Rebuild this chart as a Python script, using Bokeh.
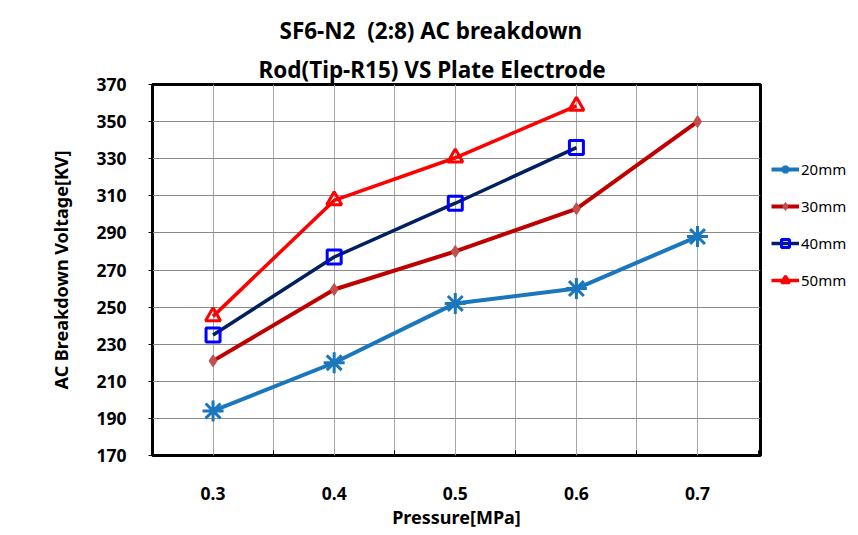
from bokeh.plotting import figure
from bokeh.models import Legend, LegendItem, FixedTicker, Range1d, Title
from bokeh.embed import file_html
from bokeh.resources import INLINE

pressure = [0.3, 0.4, 0.5, 0.6, 0.7]
v20 = [194, 220, 252, 260, 288]
v30 = [221, 259.5, 280, 303, 350]
v40 = [235, 277, 306, 336]
v50 = [245, 307.5, 330.5, 358.5]
y_ticks = [170, 190, 210, 230, 250, 270, 290, 310, 330, 350, 370]
x_labels = ["0.3", "0.4", "0.5", "0.6", "0.7"]
series_names = ["20mm", "30mm", "40mm", "50mm"]
title1 = "SF6-N2  (2:8) AC breakdown"
title2 = "Rod(Tip-R15) VS Plate Electrode"

FONT = "Noto Sans"

p = figure(frame_width=608, frame_height=371, output_backend="svg", toolbar_location=None,
           x_range=Range1d(0.25, 0.752), y_range=Range1d(170, 370),
           min_border_left=152, min_border_right=98, min_border_top=84, min_border_bottom=80)
p.background_fill_color = "white"
p.border_fill_color = "white"
p.outline_line_color = "black"
p.outline_line_width = 3

# titles (later "above" layouts sit closer to the frame)
p.title.text = title1.replace("  ", "\u00a0 ")
p.title.align = "left"
p.title.offset = 127
p.title.standoff = 12
p.title.text_font = FONT
p.title.text_font_style = "bold"
p.title.text_font_size = "22.5px"
p.title.text_color = "black"
t2 = Title(text=title2, align="left", offset=106, standoff=0, text_font=FONT,
           text_font_style="bold", text_font_size="22.5px", text_color="black")
p.add_layout(t2, "above")

# axes
p.xaxis.ticker = FixedTicker(ticks=pressure, minor_ticks=[0.25, 0.35, 0.45, 0.55, 0.65, 0.75])
p.xaxis.major_label_overrides = {x: l for x, l in zip(pressure, x_labels)}
p.xaxis.major_tick_line_color = None
p.xaxis.minor_tick_in = 5
p.xaxis.minor_tick_out = 0
p.xaxis.minor_tick_line_color = "black"
p.xaxis.axis_line_color = None
p.xaxis.major_label_standoff = 25
p.xaxis.axis_label = "Pressure[MPa]"
p.xaxis.axis_label_standoff = 2

p.yaxis.ticker = FixedTicker(ticks=y_ticks, minor_ticks=[])
p.yaxis.major_tick_in = 0
p.yaxis.major_tick_out = 4
p.yaxis.major_tick_line_color = "black"
p.yaxis.axis_line_color = None
p.yaxis.major_label_standoff = 22
p.yaxis.axis_label = "AC Breakdown Voltage[KV]"
p.yaxis.axis_label_standoff = 20

for ax in (p.xaxis[0], p.yaxis[0]):
    ax.major_label_text_font = FONT
    ax.major_label_text_font_style = "bold"
    ax.major_label_text_font_size = "17.5px"
    ax.major_label_text_color = "black"
    ax.axis_label_text_font = FONT
    ax.axis_label_text_font_style = "bold"
    ax.axis_label_text_font_size = "18px"
    ax.axis_label_text_color = "black"

# grids
p.xgrid.ticker = FixedTicker(ticks=pressure, minor_ticks=[0.35, 0.45, 0.55, 0.65])
p.xgrid.grid_line_color = "#a6a6a6"
p.xgrid.minor_grid_line_color = "#a6a6a6"
p.xgrid.grid_line_width = 1
p.ygrid.grid_line_color = "#8a8a8a"
p.ygrid.grid_line_width = 1

# series
C20, C30, C30M, C40, C40M, C50 = "#1a77bd", "#c00000", "#c0504d", "#002060", "#0000ff", "#ff0000"
r20l = p.line(pressure, v20, line_color=C20, line_width=4)
r20m = p.scatter(pressure, v20, marker="asterisk", size=21, line_color=C20, line_width=3)
r30l = p.line(pressure, v30, line_color=C30, line_width=4)
r30m = p.scatter(pressure, v30, marker="diamond", size=12, fill_color=C30M, line_color=C30M, line_width=1)
r40l = p.line(pressure[:4], v40, line_color=C40, line_width=3.5)
r40m = p.scatter(pressure[:4], v40, marker="square", size=14, fill_color=None, line_color=C40M, line_width=3)
r50l = p.line(pressure[:4], v50, line_color=C50, line_width=3.5)
r50m = p.scatter(pressure[:4], v50, marker="triangle", size=15, fill_color=None, line_color=C50, line_width=3)

legend = Legend(items=[
    LegendItem(label=series_names[0], renderers=[r20l, r20m]),
    LegendItem(label=series_names[1], renderers=[r30l, r30m]),
    LegendItem(label=series_names[2], renderers=[r40l, r40m]),
    LegendItem(label=series_names[3], renderers=[r50l, r50m]),
], location="top_left")
legend.title = "\u00a0"
legend.title_text_font_size = "14px"
legend.title_standoff = 48
legend.border_line_color = None
legend.background_fill_alpha = 0
legend.padding = 0
legend.margin = 11
legend.spacing = 17
legend.glyph_width = 28
legend.glyph_height = 20
legend.label_standoff = 2
legend.label_text_font = FONT
legend.label_text_font_size = "15px"
legend.label_text_color = "black"
p.add_layout(legend, "right")

open("out.html", "w").write(file_html(p, INLINE))
